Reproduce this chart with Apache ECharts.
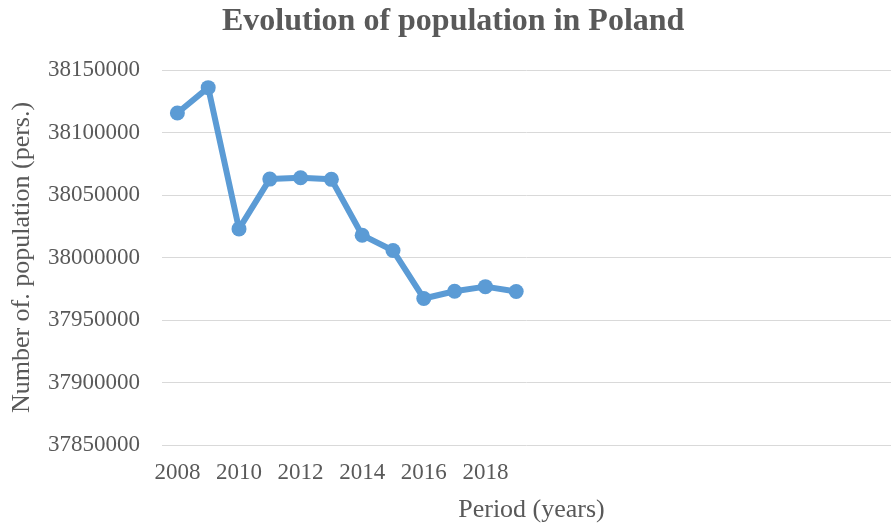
<!DOCTYPE html>
<html>
<head>
<meta charset="utf-8">
<script src="https://cdn.jsdelivr.net/npm/echarts@6/dist/echarts.min.js"></script>
<style>
  html, body { margin: 0; padding: 0; background: #fff; }
  #chart { width: 891px; height: 526px; }
</style>
</head>
<body>
<div id="chart"></div>
<script>
// population of Poland by year
var years = [2008, 2009, 2010, 2011, 2012, 2013, 2014, 2015, 2016, 2017, 2018, 2019];
var population = [38115641, 38135876, 38022869, 38062718, 38063792, 38062535,
  38017856, 38005614, 37967209, 37972964, 37976687, 37972812];
var yearLabels = [2008, 2010, 2012, 2014, 2016, 2018];

var font = '"Liberation Serif", "Times New Roman", serif';
var textColor = '#595959';

var chart = echarts.init(document.getElementById('chart'));

chart.setOption({
  animation: false,
  title: {
    text: 'Evolution of population in Poland',
    left: 217,
    top: 1,
    textStyle: { fontFamily: font, fontSize: 32, fontWeight: 'bold', color: textColor }
  },
  grid: { left: 162, right: 0, top: 70, bottom: 81, outerBoundsMode: 'none' },
  xAxis: {
    type: 'value',
    min: 2007.5,
    max: 2031.17,
    name: 'Period (years)',
    nameLocation: 'middle',
    nameGap: 52,
    nameTextStyle: { fontFamily: font, fontSize: 26, color: textColor, padding: [0, 0, 0, 10] },
    axisLine: { show: false },
    axisTick: { show: false },
    splitLine: { show: false },
    axisLabel: {
      customValues: yearLabels,
      margin: 16,
      fontFamily: font,
      fontSize: 23,
      color: textColor,
      formatter: function (v) { return String(v); }
    }
  },
  yAxis: {
    type: 'value',
    min: 37850000,
    max: 38150000,
    interval: 50000,
    name: 'Number of. population (pers.)',
    nameLocation: 'middle',
    nameGap: 127,
    nameTextStyle: { fontFamily: font, fontSize: 26, color: textColor },
    axisLine: { show: false },
    axisTick: { show: false },
    axisLabel: {
      margin: 22,
      fontFamily: font,
      fontSize: 23,
      color: textColor,
      formatter: function (v) { return String(v); }
    },
    splitLine: { lineStyle: { color: '#d9d9d9', width: 1 } }
  },
  series: [{
    type: 'line',
    data: years.map(function (y, i) { return [y, population[i]]; }),
    symbol: 'circle',
    symbolSize: 15,
    lineStyle: { color: '#5b9bd5', width: 6 },
    itemStyle: { color: '#5b9bd5' }
  }]
});
</script>
</body>
</html>
